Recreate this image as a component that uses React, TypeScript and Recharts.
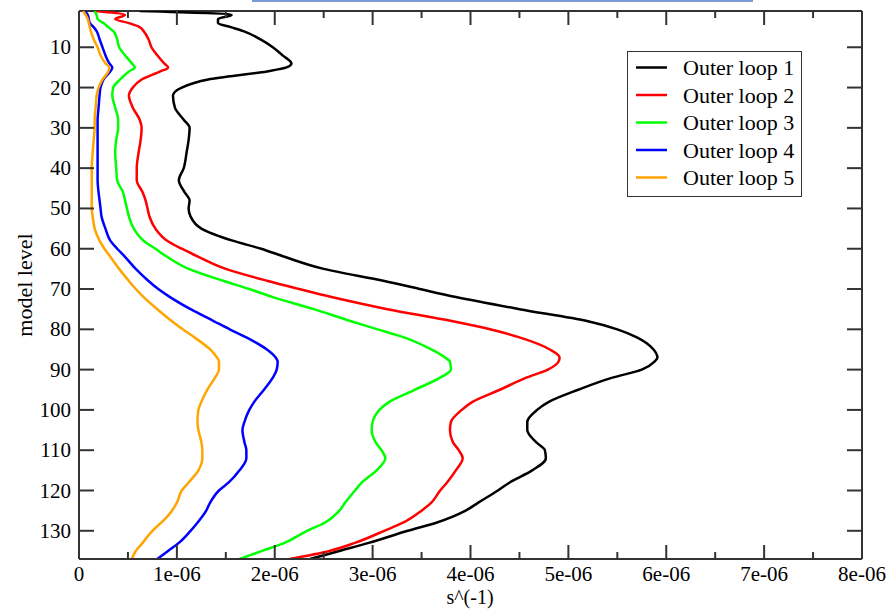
import { LineChart, Line, XAxis, YAxis, Legend, ReferenceLine } from "recharts";

// model levels shared by every curve
const levels = [
  1, 2, 3, 4, 5, 6, 8, 10, 12, 14, 15, 16, 18, 20, 22, 25, 28, 30, 33, 36, 40,
  43, 46, 48, 50, 52, 55, 58, 60, 62, 65, 68, 70, 72, 75, 78, 80, 82, 85, 87,
  88, 90, 92, 95, 98, 100, 103, 105, 108, 110, 112, 115, 118, 120, 123, 125,
  128, 130, 133, 135, 137,
];

// values in units of 1e-6 s^-1
const loop1 = [
  0.62, 1.56, 1.42, 1.42, 1.55, 1.68, 1.85, 1.98, 2.08, 2.17, 2.12, 1.92, 1.32,
  1.05, 0.96, 0.98, 1.07, 1.13, 1.12, 1.1, 1.07, 1.02, 1.08, 1.13, 1.12, 1.14,
  1.25, 1.57, 1.86, 2.1, 2.5, 3.12, 3.48, 3.85, 4.5, 5.2, 5.5, 5.7, 5.87, 5.91,
  5.88, 5.75, 5.45, 5.1, 4.8, 4.68, 4.58, 4.58, 4.67, 4.76, 4.77, 4.63, 4.4,
  4.28, 4.08, 3.95, 3.65, 3.36, 2.96, 2.66, 2.36,
];
const loop2 = [
  0.15, 0.47, 0.37, 0.51, 0.62, 0.66, 0.71, 0.74, 0.8, 0.87, 0.91, 0.83, 0.64,
  0.55, 0.51, 0.55, 0.62, 0.64, 0.63, 0.61, 0.59, 0.59, 0.65, 0.68, 0.7, 0.72,
  0.78, 0.9, 1.05, 1.22, 1.5, 1.93, 2.25, 2.58, 3.15, 3.82, 4.2, 4.5, 4.81,
  4.91, 4.9, 4.79, 4.57, 4.3, 4.02, 3.91, 3.8, 3.79, 3.82, 3.88, 3.92, 3.85,
  3.76, 3.69, 3.6, 3.5, 3.31, 3.12, 2.82, 2.56, 2.15,
];
const loop3 = [
  0.16, 0.18, 0.19, 0.25, 0.3, 0.35, 0.39, 0.41, 0.47, 0.54, 0.57, 0.51, 0.42,
  0.35, 0.34, 0.37, 0.4, 0.4, 0.38, 0.37, 0.38, 0.39, 0.45, 0.47, 0.49, 0.51,
  0.56, 0.66, 0.78, 0.9, 1.12, 1.48, 1.74, 1.98, 2.4, 2.78, 3.05, 3.32, 3.6,
  3.74, 3.79, 3.8, 3.69, 3.43, 3.17, 3.07, 3.0, 2.99, 3.03, 3.09, 3.13, 3.04,
  2.89, 2.82, 2.72, 2.66, 2.51, 2.33, 2.1, 1.87, 1.64,
];
const loop4 = [
  0.06, 0.09, 0.1, 0.11, 0.15, 0.18, 0.21, 0.24, 0.27, 0.31, 0.34, 0.32, 0.25,
  0.22, 0.21, 0.2, 0.19, 0.19, 0.19, 0.19, 0.19, 0.19, 0.2, 0.21, 0.22, 0.23,
  0.27, 0.32, 0.39, 0.47, 0.58, 0.71, 0.81, 0.93, 1.14, 1.38, 1.54, 1.71, 1.92,
  2.01, 2.03, 2.02, 1.98, 1.89, 1.79, 1.74, 1.69, 1.67, 1.69, 1.71, 1.71, 1.64,
  1.53, 1.43, 1.34, 1.3, 1.21, 1.14, 1.02, 0.91, 0.8,
];
const loop5 = [
  0.04, 0.07, 0.09, 0.1, 0.11, 0.12, 0.15, 0.19, 0.22, 0.27, 0.31, 0.3, 0.24,
  0.2, 0.18, 0.17, 0.16, 0.16, 0.15, 0.14, 0.13, 0.13, 0.13, 0.13, 0.13, 0.14,
  0.16, 0.21, 0.26, 0.32, 0.41, 0.51, 0.58, 0.66, 0.8, 0.95, 1.06, 1.18, 1.34,
  1.41, 1.43, 1.43, 1.39, 1.31, 1.25, 1.22, 1.21, 1.22, 1.25, 1.26, 1.26, 1.22,
  1.12, 1.05, 1.0, 0.95, 0.84, 0.75, 0.65, 0.58, 0.54,
];

const xTicks = [
  0, 0.5, 1, 1.5, 2, 2.5, 3, 3.5, 4, 4.5, 5, 5.5, 6, 6.5, 7, 7.5, 8,
];
const yTicks = [10, 20, 30, 40, 50, 60, 70, 80, 90, 100, 110, 120, 130];

const series = [
  { key: "loop1", name: "Outer loop 1", color: "#000000" },
  { key: "loop2", name: "Outer loop 2", color: "#ff0000" },
  { key: "loop3", name: "Outer loop 3", color: "#00ff00" },
  { key: "loop4", name: "Outer loop 4", color: "#0000ff" },
  { key: "loop5", name: "Outer loop 5", color: "#ffa500" },
];

const data = levels.map((level, i) => ({
  level,
  loop1: loop1[i],
  loop2: loop2[i],
  loop3: loop3[i],
  loop4: loop4[i],
  loop5: loop5[i],
}));

const FONT = '"Liberation Serif", "Times New Roman", serif';
const AXIS = "#333";
const W = 894;
const H = 609;
const MARGIN = { top: 11, right: 32, bottom: 0, left: 0 };
const PLOT_TOP = MARGIN.top;
const PLOT_RIGHT = W - MARGIN.right;

// bottom axis tick, mirrored onto the top edge, pointing inward
function BottomTick(props: any) {
  const { x, y, payload } = props;
  const v = payload.value;
  const len = Number.isInteger(v) ? 14 : 7;
  return (
    <g>
      <line x1={x} y1={y} x2={x} y2={y - len} stroke={AXIS} strokeWidth={2} />
      <line x1={x} y1={PLOT_TOP} x2={x} y2={PLOT_TOP + len} stroke={AXIS} strokeWidth={2} />
      {Number.isInteger(v) && (
        <text x={x} y={y + 22} textAnchor="middle" fontFamily={FONT} fontSize={21} fill="#000">
          {v === 0 ? "0" : `${v}e-06`}
        </text>
      )}
    </g>
  );
}

// left axis tick, mirrored onto the right edge
function LeftTick(props: any) {
  const { x, y, payload } = props;
  return (
    <g>
      <line x1={x} y1={y} x2={x + 15} y2={y} stroke={AXIS} strokeWidth={2} />
      <line x1={PLOT_RIGHT} y1={y} x2={PLOT_RIGHT - 15} y2={y} stroke={AXIS} strokeWidth={2} />
      <text x={x - 8} y={y + 7} textAnchor="end" fontFamily={FONT} fontSize={21} fill="#000">
        {payload.value}
      </text>
    </g>
  );
}

function LegendBox() {
  return (
    <div
      style={{
        width: 175,
        height: 146,
        border: `1.5px solid ${AXIS}`,
        boxSizing: "border-box",
        background: "#fff",
      }}
    >
      <svg width={172} height={143} style={{ display: "block" }}>
        {series.map((s, i) => {
          const cy = 15.5 + i * 27.5;
          return (
            <g key={s.key}>
              <line x1={8} x2={39} y1={cy} y2={cy} stroke={s.color} strokeWidth={2.5} />
              <text x={55} y={cy + 7.5} fontFamily={FONT} fontSize={22} fill="#000">
                {s.name}
              </text>
            </g>
          );
        })}
      </svg>
    </div>
  );
}

export default function App() {
  return (
    <div
      style={{
        position: "absolute",
        left: 0,
        top: 0,
        width: W,
        height: H,
        background: "#fff",
        overflow: "hidden",
      }}
    >
      <div
        style={{
          position: "absolute",
          left: 252,
          top: -30,
          width: 501,
          height: 32,
          boxSizing: "border-box",
          border: "2px solid #7a9bd3",
        }}
      />
      <LineChart width={W} height={H} data={data} layout="vertical" margin={MARGIN}>
        <XAxis
          type="number"
          domain={[0, 8]}
          ticks={xTicks}
          interval={0}
          height={50}
          tickSize={0}
          tickMargin={0}
          tickLine={false}
          tick={<BottomTick />}
          axisLine={{ stroke: AXIS, strokeWidth: 2 }}
          allowDataOverflow
          label={{
            content: () => (
              <text x={470} y={604} textAnchor="middle" fontFamily={FONT} fontSize={20} fill="#000">
                s^(-1)
              </text>
            ),
          }}
        />
        <YAxis
          type="number"
          dataKey="level"
          domain={[1, 137]}
          ticks={yTicks}
          interval={0}
          width={79}
          tickSize={0}
          tickMargin={0}
          tickLine={false}
          tick={<LeftTick />}
          axisLine={{ stroke: AXIS, strokeWidth: 2 }}
          allowDataOverflow
          label={{
            content: () => (
              <text
                x={32}
                y={285}
                transform="rotate(-90 32 285)"
                textAnchor="middle"
                fontFamily={FONT}
                fontSize={22}
                fill="#000"
              >
                model level
              </text>
            ),
          }}
        />
        {/* frame: top and right edges */}
        <ReferenceLine y={1} stroke={AXIS} strokeWidth={2} ifOverflow="visible" />
        <ReferenceLine x={8} stroke={AXIS} strokeWidth={2} ifOverflow="visible" />
        {series.map((s) => (
          <Line
            key={s.key}
            dataKey={s.key}
            name={s.name}
            type="monotone"
            stroke={s.color}
            strokeWidth={2.5}
            dot={false}
            isAnimationActive={false}
          />
        ))}
        <Legend
          layout="vertical"
          align="center"
          verticalAlign="middle"
          wrapperStyle={{ left: 627, top: 51, width: 175, height: 146 }}
          content={() => <LegendBox />}
        />
      </LineChart>
    </div>
  );
}
